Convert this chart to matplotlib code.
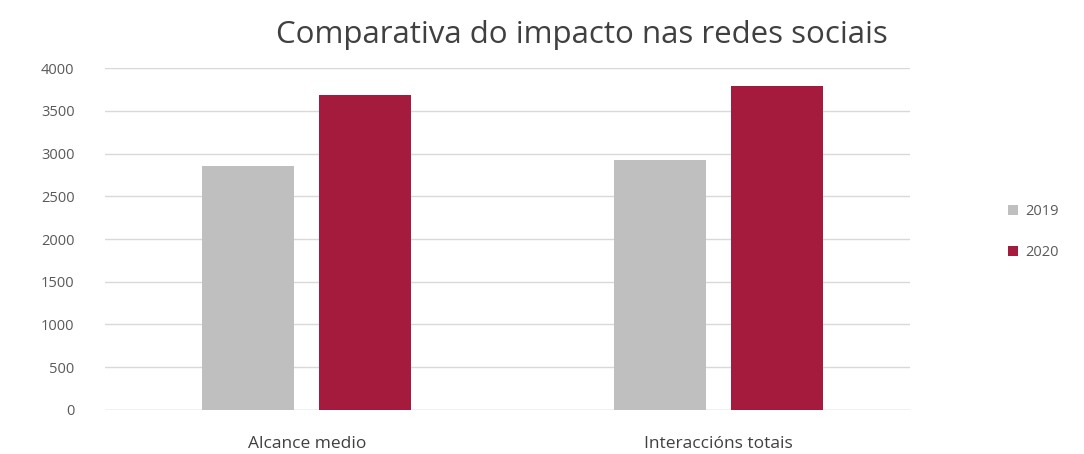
import numpy as np
import matplotlib
matplotlib.use('Agg')
import matplotlib.pyplot as plt

# Chart data
categories = ["Alcance medio", "Interaccións totais"]
series_names = ["2019", "2020"]
values_2019 = [2860, 2930]
values_2020 = [3680, 3790]
y_ticks = [0, 500, 1000, 1500, 2000, 2500, 3000, 3500, 4000]

colors = ["#bfbfbf", "#a51b3e"]

plt.rcParams['font.family'] = ['Open Sans', 'DejaVu Sans']

fig = plt.figure(figsize=(10.84, 4.54), dpi=100)
ax = fig.add_axes([105 / 1084, 0.097, 805 / 1084, 0.753])

x = np.arange(len(categories))
width = 0.223
offset = 0.142
ax.bar(x - offset, values_2019, width, color=colors[0], label=series_names[0], zorder=3)
ax.bar(x + offset, values_2020, width, color=colors[1], label=series_names[1], zorder=3)

ax.set_xlim(-0.49, 1.464)
ax.set_ylim(0, 4000)
ax.set_yticks(y_ticks)
ax.set_yticklabels([str(t) for t in y_ticks])
ax.set_xticks(x)
ax.set_xticklabels(categories)
ax.yaxis.grid(True, color="#d9d9d9", linewidth=1, zorder=0)
ax.tick_params(axis='y', length=0, labelsize=10.5, labelcolor="#595959", pad=22)
ax.tick_params(axis='x', length=0, labelsize=12.5, labelcolor="#404040", pad=19)
for s in ax.spines.values():
    s.set_visible(False)
ax.axhline(0, color="#d9d9d9", linewidth=1, zorder=1)

fig.text(0.537, 0.922, "Comparativa do impacto nas redes sociais", ha="center", va="center",
         fontsize=22.5, color="#404040")

leg = fig.legend(loc="center left", bbox_to_anchor=(0.918, 0.489), frameon=False,
                 fontsize=10.5, handlelength=0.7, handleheight=0.7, labelspacing=1.75,
                 handletextpad=0.45)
for t in leg.get_texts():
    t.set_color("#595959")

plt.savefig("out.png", dpi=100)
plt.close()
